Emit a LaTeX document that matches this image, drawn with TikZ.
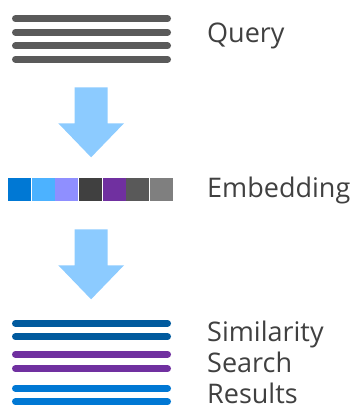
\documentclass[tikz,border=0pt]{standalone}
\usepackage{fontspec}
\setmainfont{Open Sans}
\definecolor{querygray}{HTML}{5A5A5A}
\definecolor{textgray}{HTML}{404040}
\definecolor{arrowblue}{HTML}{8CCBFF}
\definecolor{resultnavy}{HTML}{005A9E}
\definecolor{resultpurple}{HTML}{7030A0}
\definecolor{resultblue}{HTML}{0078D4}

\begin{document}
\begin{tikzpicture}[x=1pt,y=-1pt,
    bar/.style={line width=7pt,line cap=round},
    blockarrow/.style={fill=arrowblue},
    steptext/.style={anchor=base west,inner sep=0pt,text=textgray,align=left,
      font=\fontsize{27}{30.8}\selectfont}]
  \useasboundingbox (0,0) rectangle (359,419);
  % query text lines
  \foreach \y in {18.7,32.3,46,59.3}
    \draw [bar,querygray] (15.5,\y) -- (167.5,\y);
  \node [steptext] (query) at (207,42.7) {Query};
  % down arrows
  \foreach \t in {87.3,229.3}
    \fill [blockarrow] (74.5,\t) -- (107.7,\t) -- (107.7,\t+36) -- (124,\t+36)
      -- (91.1,\t+70) -- (58.3,\t+36) -- (74.5,\t+36) -- cycle;
  % embedding vector cells
  \foreach \c [count=\i from 0] in {0078D4,4CB2FF,8F8FFF,404040,7030A0,595959,7F7F7F} {
    \definecolor{cellcol}{HTML}{\c}
    \fill [cellcol] (8+23.67*\i,177.7) rectangle +(23,23.3);
  }
  \node [steptext] (embedding) at (207,197.7) {Embedding};
  % result lines (base anchor sits on the last line)
  \foreach \y/\col in {323.3/resultnavy,336.7/resultnavy,354.3/resultpurple,
      368.7/resultpurple,388.3/resultblue,401.7/resultblue}
    \draw [bar,\col] (15.5,\y) -- (167.5,\y);
  \node [steptext] (results) at (207,403.3) {Similarity\\Search\\Results};
\end{tikzpicture}
\end{document}
